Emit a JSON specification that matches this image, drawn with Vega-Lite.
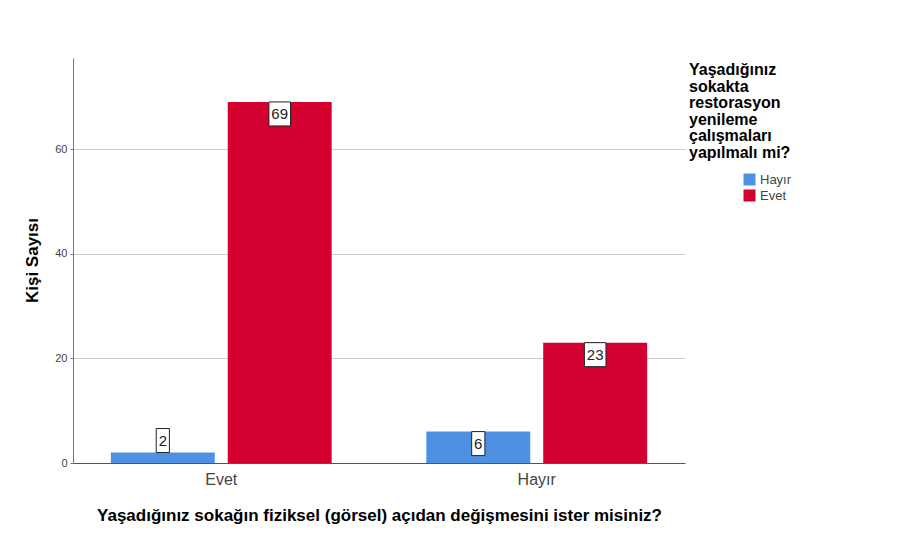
{
  "$schema": "https://vega.github.io/schema/vega-lite/v6.json",
  "width": 612,
  "height": 405,
  "autosize": {"type": "none"},
  "padding": {"left": 73, "top": 58, "right": 223, "bottom": 74},
  "background": "white",
  "config": {
    "font": "Liberation Sans",
    "view": {"stroke": null}
  },
  "data": {
    "values": [
      {"sokak": "Evet", "restorasyon": "Hayır", "count": 2},
      {"sokak": "Evet", "restorasyon": "Evet", "count": 69},
      {"sokak": "Hayır", "restorasyon": "Hayır", "count": 6},
      {"sokak": "Hayır", "restorasyon": "Evet", "count": 23}
    ]
  },
  "encoding": {
    "x": {
      "field": "sokak", "type": "nominal", "sort": ["Evet", "Hayır"],
      "scale": {"paddingInner": 0.3, "paddingOuter": 0.12},
      "axis": {
        "title": "Yaşadığınız sokağın fiziksel (görsel) açıdan değişmesini ister misiniz?",
        "titleFontSize": 17, "titleFontWeight": "bold", "titleColor": "#000",
        "titlePadding": 20,
        "labelAngle": 0, "labelFontSize": 16, "labelColor": "#444", "labelPadding": 8,
        "ticks": false, "domainColor": "#555", "domainWidth": 1
      }
    },
    "xOffset": {
      "field": "restorasyon", "type": "nominal", "sort": ["Hayır", "Evet"],
      "scale": {"paddingInner": 0.111, "paddingOuter": 0}
    },
    "y": {
      "field": "count", "type": "quantitative",
      "scale": {"domain": [0, 77.4], "nice": false},
      "axis": {
        "title": "Kişi Sayısı", "titleFontSize": 17, "titleFontWeight": "bold", "titleColor": "#000",
        "titleX": -36, "titleY": 202, "titleAngle": -90, "titleAlign": "center", "titleBaseline": "alphabetic",
        "values": [0, 20, 40, 60], "labelFontSize": 11, "labelColor": "#444", "labelPadding": 3,
        "tickSize": 3, "tickColor": "#777",
        "grid": true, "gridColor": "#cccccc", "domainColor": "#777"
      }
    }
  },
  "layer": [
    {
      "mark": {"type": "bar"},
      "encoding": {
        "color": {
          "field": "restorasyon", "type": "nominal",
          "scale": {"domain": ["Hayır", "Evet"], "range": ["#4E91E3", "#D3002F"]},
          "legend": {
            "title": ["Yaşadığınız", "sokakta", "restorasyon", "yenileme", "çalışmaları", "yapılmalı mi?"],
            "orient": "none", "legendX": 616, "legendY": 4,
            "titleFontSize": 16, "titleFontWeight": "bold", "titleColor": "#000",
            "titleLineHeight": 16.6, "titleLimit": 300, "titlePadding": 12,
            "symbolType": "square", "symbolSize": 144, "symbolOffset": 54,
            "symbolStrokeWidth": 0,
            "labelFontSize": 13, "labelColor": "#444", "labelOffset": 4,
            "rowPadding": 2
          }
        }
      }
    },
    {
      "transform": [{"filter": "datum.count >= 5"}],
      "mark": {"type": "point", "filled": true, "fill": "white", "stroke": "#222", "strokeWidth": 1, "opacity": 1, "size": 576},
      "encoding": {
        "shape": {
          "condition": {"test": "datum.count >= 10", "value": "M-0.9,0H0.9V2H-0.9Z"},
          "value": "M-0.55,0H0.55V2H-0.55Z"
        }
      }
    },
    {
      "transform": [{"filter": "datum.count < 5"}],
      "mark": {"type": "point", "filled": true, "fill": "white", "stroke": "#222", "strokeWidth": 1, "opacity": 1, "size": 576, "shape": "M-0.55,-2H0.55V0H-0.55Z"},
      "encoding": {}
    },
    {
      "transform": [{"filter": "datum.count >= 5"}],
      "mark": {"type": "text", "baseline": "middle", "dy": 12, "fontSize": 15, "color": "#222"},
      "encoding": {"text": {"field": "count", "type": "quantitative"}}
    },
    {
      "transform": [{"filter": "datum.count < 5"}],
      "mark": {"type": "text", "baseline": "middle", "dy": -12, "fontSize": 15, "color": "#222"},
      "encoding": {"text": {"field": "count", "type": "quantitative"}}
    }
  ]
}
